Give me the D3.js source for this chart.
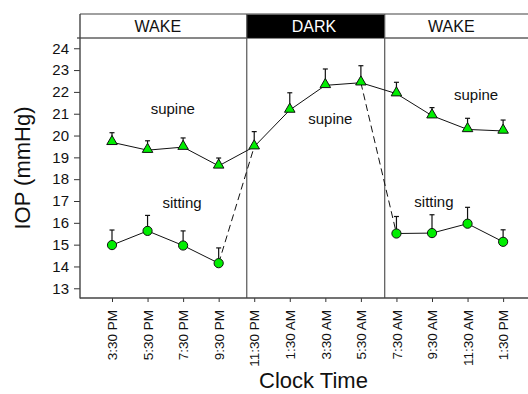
<!DOCTYPE html>
<html><head>
<meta charset="utf-8">
<style>
  body, html { margin: 0; padding: 0; background: #fff; }
  svg text { font-family: Arial, 'Liberation Sans', sans-serif; fill: #111; }
</style>
<script src="https://d3js.org/d3.v7.min.js"></script>
</head>
<body>
<div id="chart"></div>
<script>
const times = ["3:30 PM", "5:30 PM", "7:30 PM", "9:30 PM", "11:30 PM", "1:30 AM",
               "3:30 AM", "5:30 AM", "7:30 AM", "9:30 AM", "11:30 AM", "1:30 PM"];
const hours = [15.5, 17.5, 19.5, 21.5, 23.5, 25.5, 27.5, 29.5, 31.5, 33.5, 35.5, 37.5];
const supine = [19.69, 19.33, 19.47, 18.61, 19.49, 21.17, 22.30, 22.42, 21.92, 20.91, 20.28, 20.21];
const supineErr = [0.44, 0.43, 0.42, 0.36, 0.69, 0.79, 0.75, 0.78, 0.52, 0.37, 0.51, 0.50];
const sitting = [14.98, 15.63, 14.96, 14.15, null, null, null, null, 15.51, 15.53, 15.96, 15.13];
const sittingErr = [0.69, 0.71, 0.67, 0.70, null, null, null, null, 0.78, 0.84, 0.75, 0.55];
const yTicks = [13, 14, 15, 16, 17, 18, 19, 20, 21, 22, 23, 24];

const bandLabels = ["WAKE", "DARK", "WAKE"];
const bandStart = [13.7, 23.08, 30.84];
const bandEnd = [23.08, 30.84, 38.9];
const bandTextAt = [18.08, 26.86, 34.59];

const noteText = ["supine", "supine", "supine", "sitting", "sitting"];
const noteHour = [18.92, 27.78, 35.98, 19.44, 33.61];
const noteIop = [20.97, 20.53, 21.63, 16.69, 16.74];

const W = 528, H = 394;
const mLeft = 80, mRight = 528, headTop = 14, plotTop = 38, plotBottom = 298;

const svg = d3.select("#chart").append("svg")
  .attr("width", W).attr("height", H);

const x = d3.scaleLinear().domain([13.7, 38.9]).range([mLeft, mRight]);
const y = d3.scaleLinear().domain([12.555, 24.47]).range([plotBottom, plotTop]);

// header bands
svg.selectAll("rect.band")
  .data(bandLabels)
  .enter().append("rect")
  .attr("x", (d, i) => x(bandStart[i]))
  .attr("width", (d, i) => x(bandEnd[i]) - x(bandStart[i]))
  .attr("y", headTop)
  .attr("height", plotTop - headTop)
  .attr("fill", d => d == "DARK" ? "#000" : "#fff");

svg.selectAll("text.band")
  .data(bandLabels)
  .enter().append("text")
  .attr("x", (d, i) => x(bandTextAt[i]))
  .attr("y", 32)
  .attr("text-anchor", "middle")
  .style("font-size", "16px")
  .style("fill", d => d == "DARK" ? "#fff" : "#111")
  .text(d => d);

// frame lines
svg.append("line").attr("x1", mLeft).attr("x2", mRight).attr("y1", headTop).attr("y2", headTop)
  .attr("stroke", "#808080").attr("stroke-width", 1.6);
svg.append("line").attr("x1", mLeft - 3).attr("x2", mRight).attr("y1", plotTop).attr("y2", plotTop)
  .attr("stroke", "#111").attr("stroke-width", 1);

// dividers between bands
svg.selectAll("line.div")
  .data(bandStart.slice(1))
  .enter().append("line")
  .attr("x1", d => x(d)).attr("x2", d => x(d))
  .attr("y1", headTop).attr("y2", plotBottom)
  .attr("stroke", "#555").attr("stroke-width", 1.2);

// axes
const yAxis = svg.append("g")
  .attr("transform", `translate(${mLeft},0)`)
  .call(d3.axisLeft(y).tickValues(yTicks).tickSize(6).tickPadding(5));
yAxis.select(".domain").remove();
yAxis.selectAll(".tick line").attr("stroke", "#333");
yAxis.selectAll("text").style("font-size", "15px").attr("fill", "#111");
svg.append("line").attr("x1", mLeft).attr("x2", mLeft).attr("y1", headTop).attr("y2", plotBottom + 0.5)
  .attr("stroke", "#444").attr("stroke-width", 1.4);

const xAxis = svg.append("g")
  .attr("transform", `translate(0,${plotBottom})`)
  .call(d3.axisBottom(x).tickValues(hours).tickFormat((d, i) => times[i]).tickSize(4));
xAxis.select(".domain").remove();
xAxis.selectAll(".tick line").attr("stroke", "#333");
xAxis.selectAll("text")
  .style("font-size", "13.5px").attr("fill", "#111")
  .attr("text-anchor", "end")
  .attr("transform", "rotate(-90)")
  .attr("x", -12).attr("y", 0).attr("dy", "0.35em");
svg.append("line").attr("x1", mLeft).attr("x2", mRight).attr("y1", plotBottom).attr("y2", plotBottom)
  .attr("stroke", "#444").attr("stroke-width", 1.4);

// axis titles
svg.append("text")
  .attr("transform", `translate(30,168) rotate(-90)`)
  .attr("text-anchor", "middle")
  .style("font-size", "22px")
  .text("IOP (mmHg)");
svg.append("text")
  .attr("x", 313.5).attr("y", 388)
  .attr("text-anchor", "middle")
  .style("font-size", "22px")
  .text("Clock Time");

// dashed connectors from sitting to supine across the dark period
const lastSitBefore = 3, firstSitAfter = 8;
const dashes = [
  [[hours[lastSitBefore], sitting[lastSitBefore]], [hours[lastSitBefore + 1], supine[lastSitBefore + 1]]],
  [[hours[firstSitAfter - 1], supine[firstSitAfter - 1]], [hours[firstSitAfter], sitting[firstSitAfter]]]
];
const line = d3.line().x(d => x(d[0])).y(d => y(d[1]));
svg.selectAll("path.dash")
  .data(dashes)
  .enter().append("path")
  .attr("d", line)
  .attr("fill", "none").attr("stroke", "#111").attr("stroke-width", 1)
  .attr("stroke-dasharray", "7,4");

// solid lines
const supPts = hours.map((h, i) => [h, supine[i]]);
const sitPts = hours.map((h, i) => [h, sitting[i]]);
svg.append("path").attr("d", line(supPts))
  .attr("fill", "none").attr("stroke", "#111").attr("stroke-width", 1);
svg.append("path").attr("d", line.defined(d => d[1] != null)(sitPts))
  .attr("fill", "none").attr("stroke", "#111").attr("stroke-width", 1);

// error bars (upper only)
function errBars(vals, errs) {
  const idx = d3.range(vals.length).filter(i => vals[i] != null);
  const g = svg.append("g").attr("stroke", "#111").attr("stroke-width", 1.2);
  g.selectAll("line.v").data(idx).enter().append("line")
    .attr("x1", i => x(hours[i])).attr("x2", i => x(hours[i]))
    .attr("y1", i => y(vals[i])).attr("y2", i => y(vals[i] + errs[i]));
  g.selectAll("line.c").data(idx).enter().append("line")
    .attr("x1", i => x(hours[i]) - 2.5).attr("x2", i => x(hours[i]) + 2.5)
    .attr("y1", i => y(vals[i] + errs[i])).attr("y2", i => y(vals[i] + errs[i]));
}
errBars(supine, supineErr);
errBars(sitting, sittingErr);

// markers
svg.selectAll("path.tri")
  .data(supPts)
  .enter().append("path")
  .attr("d", d3.symbol(d3.symbolTriangle, 48))
  .attr("transform", d => `translate(${x(d[0])},${y(d[1]) - 0.8})`)
  .attr("fill", "#00ee00").attr("stroke", "#111").attr("stroke-width", 1);
svg.selectAll("circle.sit")
  .data(sitPts.filter(d => d[1] != null))
  .enter().append("circle")
  .attr("cx", d => x(d[0])).attr("cy", d => y(d[1])).attr("r", 4.6)
  .attr("fill", "#00ee00").attr("stroke", "#111").attr("stroke-width", 1);

// notes
svg.selectAll("text.note")
  .data(noteText)
  .enter().append("text")
  .attr("x", (d, i) => x(noteHour[i]))
  .attr("y", (d, i) => y(noteIop[i]))
  .attr("text-anchor", "middle")
  .style("font-size", "15px")
  .text(d => d);
</script>
</body></html>
